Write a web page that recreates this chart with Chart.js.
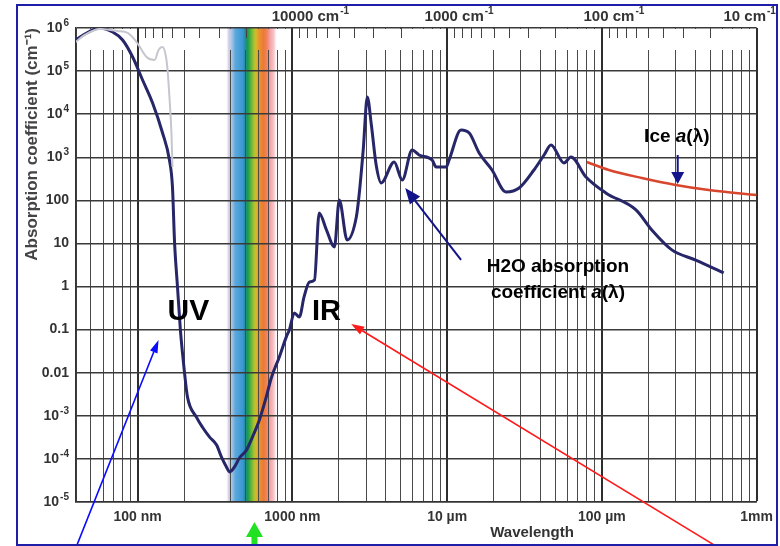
<!DOCTYPE html>
<html>
<head>
<meta charset="utf-8">
<title>Absorption coefficient of water and ice</title>
<script src="https://cdn.jsdelivr.net/npm/chart.js@4.4.1/dist/chart.umd.min.js"></script>
<style>
  html, body { margin: 0; padding: 0; background: #fff; }
</style>
</head>
<body>
<canvas id="absorption-chart" width="780" height="546"></canvas>
<script>
// Liquid water, wavelength in micrometres / absorption in cm^-1
const waterWavelength = [0.0398, 0.0469, 0.0569, 0.069, 0.08, 0.0929, 0.1077, 0.125, 0.145, 0.1606,
  0.168, 0.1734, 0.181, 0.189, 0.195, 0.201, 0.21, 0.24, 0.262, 0.292,
  0.324, 0.348, 0.375, 0.393, 0.423, 0.455, 0.505, 0.552, 0.612, 0.67,
  0.731, 0.824, 0.914, 0.957, 1.03, 1.11, 1.19, 1.29, 1.39, 1.49,
  1.66, 1.87, 2.01, 2.26, 2.59, 2.70, 2.87, 3.05, 3.24, 3.48,
  3.75, 4.55, 5.13, 5.94, 6.59, 8.0, 8.49, 9.86, 10.3, 12.3,
  13.9, 16.1, 19.5, 24.0, 29.2, 36.4, 42.3, 46.9, 56.9, 63.1,
  78.9, 106, 166, 210, 283, 404, 612];
const waterAbsorption = [5.27e5, 7.66e5, 1.0e6, 8.07e5, 5.27e5, 2.12e5, 6.22e4, 1.82e4, 3660, 865,
  205, 10.3, 1.0, 0.1, 0.0288, 0.01, 0.00275, 9.3e-4, 5.5e-4, 3.2e-4,
  2.1e-4, 1.11e-4, 6.5e-5, 5.0e-5, 6.5e-5, 1.05e-4, 1.6e-4, 3.2e-4, 8.0e-4, 0.00234,
  0.00757, 0.0233, 0.068, 0.1, 0.244, 0.197, 0.574, 1.28, 1.42, 51,
  20.6, 8.3, 102, 12, 41, 133, 1476, 2.5e4, 5610, 662,
  254, 778, 297, 1476, 1130, 865, 596, 596, 865, 4300,
  3660, 1260, 507, 157, 194, 507, 1130, 1930, 738, 1016,
  349, 149, 60, 20.6, 7.1, 4.1, 2.07];

// Second (grey) UV data set
const uvWavelength = [0.0398, 0.0455, 0.0569, 0.0743, 0.0862, 0.0985, 0.1143, 0.1288, 0.1366, 0.145,
  0.1518, 0.1562, 0.1606, 0.1655, 0.168];
const uvAbsorption = [4.73e5, 6.9e5, 9.5e5, 8.5e5, 7.66e5, 4.73e5, 2.12e5, 1.81e5, 3.09e5, 3.62e5,
  2.37e5, 1.06e5, 2.5e4, 3660, 596];

// Ice
const iceWavelength = [80, 111, 181, 300, 490, 1000];
const iceAbsorption = [778, 507, 331, 228, 174, 133];

// Axis ticks
const xMajorTicks = [0.1, 1, 10, 100, 1000];
const xTickLabels = ['100 nm', '1000 nm', '10 \u00b5m', '100 \u00b5m', '1mm'];
const yTicks = [1e-5, 1e-4, 1e-3, 0.01, 0.1, 1, 10, 100, 1e3, 1e4, 1e5, 1e6];
const yTickLabels = ['10^-5', '10^-4', '10^-3', '0.01', '0.1', '1', '10', '100', '10^3', '10^4', '10^5', '10^6'];
const waveNumbers = [10000, 1000, 100, 10];
const waveNumberLabels = ['10000 cm^-1', '1000 cm^-1', '100 cm^-1', '10 cm^-1'];

// Visible band limits (micrometres)
const visibleStart = 0.37;
const visibleEnd = 0.80;

const FONT = '"Liberation Sans", Arial, Helvetica, sans-serif';
const INK = '#333';

const spectrumStops = [
  [0.00, 'rgba(255,255,255,0)'], [0.06, '#d2d2e6'], [0.12, '#a9c3e4'], [0.19, '#5aa8dc'],
  [0.33, '#3a98d4'], [0.39, '#1f8c88'], [0.43, '#1c9a4c'], [0.49, '#5cb43a'],
  [0.55, '#a9c132'], [0.59, '#d9b82a'], [0.64, '#e8962e'], [0.73, '#ec7a34'],
  [0.80, '#ee8462'], [0.86, '#f4a2a4'], [0.94, '#f8cbd0'], [1.00, 'rgba(255,255,255,0)']
];

// grid positions: every 1..9 x decade inside the range (no 300 nm line in the original)
const xGridValues = [];
[0.01, 0.1, 1, 10, 100, 1000].forEach(d => {
  for (let k = 1; k <= 9; k++) {
    const v = +(k * d).toPrecision(3);
    if (v >= 0.04 && v <= 1000 && v !== 0.3) xGridValues.push(v);
  }
});

function majorIndex(v) {
  return xMajorTicks.findIndex(m => Math.abs(Math.log10(v) - Math.log10(m)) < 1e-6);
}

function pts(xs, ys) {
  return xs.map((x, i) => ({ x, y: ys[i] }));
}

function paintSpectrum(ctx, xs, top, h) {
  const x0 = xs.getPixelForValue(visibleStart);
  const x1 = xs.getPixelForValue(visibleEnd);
  const g = ctx.createLinearGradient(x0, 0, x1, 0);
  spectrumStops.forEach(([o, c]) => g.addColorStop(o, c));
  ctx.fillStyle = g;
  ctx.fillRect(x0, top, x1 - x0, h);
}

function arrow(ctx, x0, y0, x1, y1, color, width, headLen, headW) {
  const ang = Math.atan2(y1 - y0, x1 - x0);
  const bx = x1 - headLen * Math.cos(ang), by = y1 - headLen * Math.sin(ang);
  ctx.strokeStyle = color;
  ctx.lineWidth = width;
  ctx.beginPath(); ctx.moveTo(x0, y0); ctx.lineTo(bx, by); ctx.stroke();
  ctx.fillStyle = color;
  ctx.beginPath();
  ctx.moveTo(x1, y1);
  ctx.lineTo(bx + headW / 2 * Math.sin(ang), by - headW / 2 * Math.cos(ang));
  ctx.lineTo(bx - headW / 2 * Math.sin(ang), by + headW / 2 * Math.cos(ang));
  ctx.closePath(); ctx.fill();
}

// draw a line of text made of [string, fontStyle] parts, centred on cx
function richText(ctx, parts, cx, cy, size) {
  let total = 0;
  parts.forEach(([s, st]) => { ctx.font = `${st} ${size}px ${FONT}`; total += ctx.measureText(s).width; });
  let x = cx - total / 2;
  ctx.textAlign = 'left';
  ctx.textBaseline = 'middle';
  parts.forEach(([s, st]) => {
    ctx.font = `${st} ${size}px ${FONT}`;
    ctx.fillText(s, x, cy);
    x += ctx.measureText(s).width;
  });
}

// "base^sup" label; anchor 'center' or 'right'
function supText(ctx, label, ax, cy, size, supSize, anchor) {
  const [base, sup = ''] = label.split('^');
  ctx.font = `bold ${size}px ${FONT}`;
  const w1 = ctx.measureText(base).width;
  ctx.font = `bold ${supSize}px ${FONT}`;
  const w2 = sup ? ctx.measureText(sup).width + 1 : 0;
  const x = anchor === 'right' ? ax - (w1 + w2) : ax - (w1 + w2) / 2;
  ctx.textAlign = 'left';
  ctx.textBaseline = 'middle';
  ctx.font = `bold ${size}px ${FONT}`;
  ctx.fillText(base, x, cy);
  if (sup) {
    ctx.font = `bold ${supSize}px ${FONT}`;
    ctx.fillText(sup, x + w1 + 1, cy - size * 0.36);
  }
}

// visible spectrum behind the grid
const spectrumPlugin = {
  id: 'spectrum',
  beforeDraw(chart) {
    const { ctx, chartArea: a, scales: { x } } = chart;
    ctx.save();
    paintSpectrum(ctx, x, a.top, a.bottom - a.top);
    ctx.restore();
  }
};

// wavenumber tick strip along the top of the plot
const topStripPlugin = {
  id: 'topStrip',
  beforeDatasetsDraw(chart) {
    const { ctx, chartArea: a, scales: { x } } = chart;
    const h = 21;
    ctx.save();
    ctx.fillStyle = '#fff';
    ctx.fillRect(a.left + 1, a.top + 1, a.right - a.left - 2, h);
    paintSpectrum(ctx, x, a.top + 1, h);
    ctx.strokeStyle = '#2e2e2e';
    ctx.lineWidth = 2;
    xMajorTicks.slice(0, 4).forEach(v => {
      const px = Math.round(x.getPixelForValue(v));
      ctx.beginPath(); ctx.moveTo(px, a.top); ctx.lineTo(px, a.top + h + 1); ctx.stroke();
    });
    ctx.lineWidth = 1;
    ctx.strokeStyle = '#444';
    waveNumbers.forEach(wn => {
      for (let k = 2; k <= 9; k++) {
        const lam = 1e4 / (k * wn);
        if (lam < x.min || lam > x.max) continue;
        const px = Math.round(x.getPixelForValue(lam)) + 0.5;
        ctx.beginPath(); ctx.moveTo(px, a.top); ctx.lineTo(px, a.top + 10); ctx.stroke();
      }
    });
    ctx.restore();
  }
};

// labels, arrows and frame
const annotationPlugin = {
  id: 'notes',
  afterDraw(chart) {
    const { ctx, chartArea: area, scales: { x, y } } = chart;
    const X = v => x.getPixelForValue(v);
    const Y = v => y.getPixelForValue(v);
    ctx.save();

    // y tick labels with real superscripts
    ctx.fillStyle = INK;
    yTicks.forEach((v, i) => supText(ctx, yTickLabels[i], area.left - 7, Y(v), 14, 10, 'right'));

    // wavenumber labels
    const shift = [18, 12, 12, -7];
    waveNumbers.forEach((wn, i) => {
      supText(ctx, waveNumberLabels[i], X(1e4 / wn) + shift[i], 17, 15, 10, 'center');
    });

    // x axis name
    ctx.font = `bold 15px ${FONT}`;
    ctx.textAlign = 'center';
    ctx.textBaseline = 'middle';
    ctx.fillText('Wavelength', 532, 533);

    // big region labels
    ctx.fillStyle = '#000';
    richText(ctx, [['UV', 'bold']], X(0.213), Y(0.26), 30);
    richText(ctx, [['IR', 'bold']], X(1.66), Y(0.26), 29);
    richText(ctx, [['H2O absorption', 'bold']], X(52), Y(2.85), 19);
    richText(ctx, [['coefficient ', 'bold'], ['a', 'italic bold'], ['(\u03bb)', 'bold']], X(52), Y(0.71), 19);
    richText(ctx, [['Ice ', 'bold'], ['a', 'italic bold'], ['(\u03bb)', 'bold']], X(305), Y(2960), 19);

    // arrows
    arrow(ctx, X(12.3), Y(4.14), X(5.36), Y(194), '#14148a', 2, 16, 13);
    arrow(ctx, X(309), Y(1130), X(309), Y(240), '#14148a', 2, 12, 13);
    arrow(ctx, X(0.0404), Y(9.6e-7), X(0.1366), Y(0.0577), '#0a0aff', 1.6, 13, 8);
    arrow(ctx, X(543), Y(9.6e-7), X(2.40), Y(0.1355), '#ff1a1a', 1.6, 13, 9);
    arrow(ctx, X(0.569), Y(9.6e-7), X(0.569), Y(3.45e-6), '#22e022', 6, 15, 17);

    // outer frame
    ctx.strokeStyle = '#1e1ea8';
    ctx.lineWidth = 2;
    ctx.strokeRect(17, 5, 760, 540);
    ctx.restore();
  }
};

const ctx = document.getElementById('absorption-chart').getContext('2d');
new Chart(ctx, {
  type: 'scatter',
  data: {
    datasets: [
      {
        label: 'UV (second set)',
        data: pts(uvWavelength, uvAbsorption),
        showLine: true,
        borderColor: '#c6c6cf',
        borderWidth: 2,
        pointRadius: 0,
        cubicInterpolationMode: 'monotone'
      },
      {
        label: 'Ice a(\u03bb)',
        data: pts(iceWavelength, iceAbsorption),
        showLine: true,
        borderColor: '#d8462e',
        borderWidth: 2.5,
        pointRadius: 0,
        cubicInterpolationMode: 'monotone'
      },
      {
        label: 'H2O absorption coefficient a(\u03bb)',
        data: pts(waterWavelength, waterAbsorption),
        showLine: true,
        borderColor: '#262668',
        borderWidth: 3,
        pointRadius: 0,
        cubicInterpolationMode: 'monotone'
      }
    ]
  },
  options: {
    responsive: false,
    animation: false,
    layout: { padding: { left: 0, right: 22, top: 28, bottom: 0 } },
    plugins: {
      legend: { display: false },
      tooltip: { enabled: false }
    },
    scales: {
      x: {
        type: 'logarithmic',
        min: 0.04,
        max: 1000,
        afterBuildTicks: s => { s.ticks = xGridValues.map(v => ({ value: v })); },
        afterFit: s => { s.height = 44; },
        grid: {
          drawTicks: false,
          color: ctx => (ctx.tick && majorIndex(ctx.tick.value) >= 0 ? '#2e2e2e' : '#4a4a4a'),
          lineWidth: ctx => (ctx.tick && majorIndex(ctx.tick.value) >= 0 ? 2 : 1)
        },
        border: { display: true, color: '#333', width: 1.5 },
        ticks: {
          autoSkip: false,
          maxRotation: 0,
          padding: 7,
          color: INK,
          font: { family: FONT, size: 14, weight: 'bold' },
          callback: v => { const i = majorIndex(v); return i >= 0 ? xTickLabels[i] : ''; }
        }
      },
      y: {
        type: 'logarithmic',
        min: 1e-5,
        max: 1e6,
        afterBuildTicks: s => { s.ticks = yTicks.map(v => ({ value: v })); },
        afterFit: s => { s.width = 76; },
        grid: { drawTicks: false, color: '#3a3a3a', lineWidth: 1.5 },
        border: { display: true, color: '#333', width: 1.5 },
        ticks: { display: false },
        title: {
          display: true,
          text: 'Absorption coefficient (cm\u207b\u00b9)',
          align: 'end',
          color: '#444',
          font: { family: FONT, size: 17, weight: 'bold' },
          padding: { top: 22, bottom: 0 }
        }
      }
    }
  },
  plugins: [spectrumPlugin, topStripPlugin, annotationPlugin]
});
</script>
</body>
</html>
